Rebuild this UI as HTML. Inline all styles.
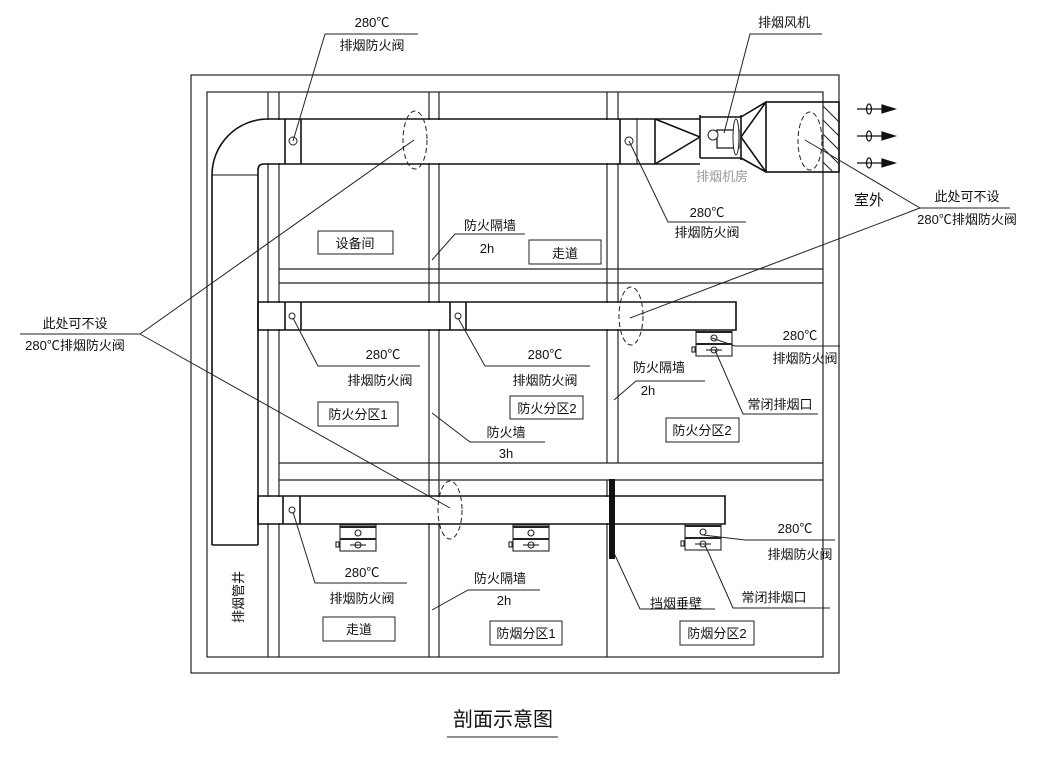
<!DOCTYPE html>
<html><head><meta charset="utf-8"><style>
html,body{margin:0;padding:0;background:#fff}
svg text{font-family:"Liberation Sans","Noto Sans CJK SC",sans-serif;fill:#111}
</style></head><body>
<svg width="1056" height="753" viewBox="0 0 1056 753" xmlns="http://www.w3.org/2000/svg">
<defs>
<g id="v" fill="none" stroke="#222" stroke-width="1.1"><rect x="0" y="0" width="36" height="26"/><line x1="0" y1="2" x2="36" y2="2" stroke-width="2"/><line x1="0" y1="14" x2="36" y2="14" stroke-width="2"/><circle cx="18" cy="8" r="3"/><circle cx="18" cy="20" r="3"/><line x1="10" y1="20" x2="26" y2="20"/><rect x="-4" y="17" width="3" height="5"/></g>
<clipPath id="hc"><rect x="823" y="102" width="16" height="70"/></clipPath>
</defs>
<g fill="none" stroke="#222" stroke-width="1.2">
<rect x="191" y="75" width="648" height="598"/>
<rect x="207" y="92" width="616" height="565"/>
<line x1="268" y1="92" x2="268" y2="657"/>
<line x1="279" y1="92" x2="279" y2="657"/>
<line x1="429" y1="92" x2="429" y2="657"/><line x1="439" y1="92" x2="439" y2="657"/>
<line x1="607" y1="92" x2="607" y2="463"/><line x1="618" y1="92" x2="618" y2="463"/>
<line x1="607" y1="480" x2="607" y2="657"/>
<line x1="279" y1="269" x2="823" y2="269"/><line x1="279" y1="283" x2="823" y2="283"/>
<line x1="279" y1="463" x2="823" y2="463"/><line x1="279" y1="480" x2="823" y2="480"/>
</g>
<g fill="#fff" stroke="none">
<rect x="259" y="120" width="396" height="43"/>
<rect x="259" y="303" width="476" height="26"/>
<rect x="259" y="497" width="465" height="26"/>
<rect x="213" y="176" width="44" height="368"/>
</g>
<g fill="none" stroke="#111" stroke-width="1.6">
<path d="M212,545 L212,175 A56,56 0 0 1 268,119 L655,119"/>
<path d="M258,545 L258,170 Q258,164 264,164 L655,164"/>
<line x1="212" y1="545" x2="258" y2="545"/>
<line x1="212" y1="175" x2="258" y2="175" stroke-width="1"/>
<line x1="285" y1="119" x2="285" y2="164"/><line x1="301" y1="119" x2="301" y2="164"/>
<line x1="620" y1="119" x2="620" y2="164"/><line x1="637" y1="119" x2="637" y2="164" stroke-width="1"/>
<line x1="655" y1="119" x2="700" y2="119"/><line x1="655" y1="164" x2="700" y2="164"/>
<line x1="655" y1="119" x2="655" y2="164"/>
<path d="M655,119 L700,137 M655,164 L700,137"/>
<line x1="700" y1="115" x2="700" y2="158"/>
<line x1="700" y1="117" x2="741" y2="117"/><line x1="700" y1="158" x2="741" y2="158"/>
<line x1="741" y1="115" x2="741" y2="160"/>
<path d="M741,117 L766,102 M741,158 L766,172 M766,102 L741,137 L766,172"/>
<rect x="766" y="102" width="73" height="70"/>
<rect x="717" y="130" width="22" height="18" stroke-width="1.2"/>
<path d="M258,302 L736,302 L736,330 L258,330 Z"/>
<line x1="285" y1="302" x2="285" y2="330"/><line x1="301" y1="302" x2="301" y2="330"/>
<line x1="450" y1="302" x2="450" y2="330"/><line x1="466" y1="302" x2="466" y2="330"/>
<path d="M258,496 L725,496 L725,524 L258,524 Z"/>
<line x1="283" y1="496" x2="283" y2="524"/><line x1="300" y1="496" x2="300" y2="524"/>
</g>
<g stroke="#222" stroke-width="1" clip-path="url(#hc)"><path d="M815,98 L845,128 M815,112 L845,142 M815,126 L845,156 M815,140 L845,170 M815,154 L845,184 M815,168 L845,198"/></g>
<rect x="609" y="479" width="6" height="80" fill="#111"/>
<g fill="#fff" stroke="#222" stroke-width="1">
<circle cx="293" cy="141" r="4"/><circle cx="629" cy="141" r="4"/><circle cx="713" cy="135" r="5"/>
<circle cx="292" cy="316" r="3"/><circle cx="458" cy="316" r="3"/><circle cx="292" cy="510" r="3"/>
<ellipse cx="736" cy="137" rx="3" ry="18"/>
</g>
<use href="#v" x="696" y="330"/><use href="#v" x="340" y="525"/><use href="#v" x="513" y="525"/><use href="#v" x="685" y="524"/>
<g fill="none" stroke="#222" stroke-width="1" stroke-dasharray="5,3">
<ellipse cx="415" cy="140" rx="12" ry="29"/><ellipse cx="810" cy="141" rx="12" ry="29"/>
<ellipse cx="631" cy="316" rx="12" ry="29"/><ellipse cx="450" cy="510" rx="12" ry="29"/>
</g>
<g stroke="#111" stroke-width="1.2" fill="#111">
<line x1="857" y1="109" x2="882" y2="109"/><path d="M882,105 L895,109 L882,113Z"/>
<line x1="857" y1="136" x2="882" y2="136"/><path d="M882,132 L895,136 L882,140Z"/>
<line x1="857" y1="163" x2="882" y2="163"/><path d="M882,159 L895,163 L882,167Z"/>
<g fill="none"><ellipse cx="869" cy="109" rx="2.5" ry="5"/><ellipse cx="869" cy="136" rx="2.5" ry="5"/><ellipse cx="869" cy="163" rx="2.5" ry="5"/></g>
</g>
<g fill="none" stroke="#222" stroke-width="1">
<path d="M293,141 L325,34 L418,34"/>
<path d="M724,133 L750,34 L822,34"/>
<path d="M629,141 L668,222 L746,222"/>
<path d="M805,140 L920,208 L1010,208 M630,318 L920,208"/>
<path d="M20,334 L140,334 L414,140 M140,334 L450,508"/>
<path d="M432,260 L455,234 L525,234"/>
<path d="M293,318 L318,366 L420,366"/>
<path d="M458,318 L485,366 L590,366"/>
<path d="M432,413 L470,442 L545,442"/>
<path d="M712,338 L735,346 L840,346"/>
<path d="M614,400 L636,381 L705,381"/>
<path d="M715,350 L743,414 L818,414"/>
<path d="M703,535 L745,540 L835,540"/>
<path d="M293,512 L315,583 L407,583"/>
<path d="M432,610 L468,590 L540,590"/>
<path d="M614,553 L640,609 L715,609"/>
<path d="M705,545 L733,608 L830,608"/>
<path d="M447,737 L558,737"/>
</g>
<g fill="#fff" stroke="#222" stroke-width="1">
<rect x="318" y="231" width="75" height="23"/><rect x="529" y="240" width="72" height="24"/>
<rect x="318" y="402" width="80" height="24"/><rect x="510" y="396" width="73" height="23"/>
<rect x="666" y="418" width="73" height="24"/>
<rect x="323" y="617" width="72" height="24"/><rect x="490" y="621" width="72" height="24"/><rect x="680" y="621" width="74" height="24"/>
</g>
<g font-size="13" text-anchor="middle">
<text x="372" y="27">280℃</text><text x="372" y="50">排烟防火阀</text>
<text x="784" y="27">排烟风机</text>
<text x="707" y="217">280℃</text><text x="707" y="237">排烟防火阀</text>
<text x="722" y="181" style="fill:#999">排烟机房</text>
<text x="869" y="205" font-size="15">室外</text>
<text x="967" y="201">此处可不设</text><text x="967" y="224">280℃排烟防火阀</text>
<text x="75" y="328">此处可不设</text><text x="75" y="350">280℃排烟防火阀</text>
<text x="355" y="248">设备间</text><text x="490" y="230">防火隔墙</text><text x="487" y="253">2h</text>
<text x="565" y="258">走道</text>
<text x="383" y="359">280℃</text><text x="380" y="385">排烟防火阀</text>
<text x="545" y="359">280℃</text><text x="545" y="385">排烟防火阀</text>
<text x="358" y="419">防火分区1</text><text x="547" y="413">防火分区2</text>
<text x="506" y="437">防火墙</text><text x="506" y="458">3h</text>
<text x="800" y="340">280℃</text><text x="805" y="363">排烟防火阀</text>
<text x="659" y="372">防火隔墙</text><text x="648" y="395">2h</text>
<text x="780" y="409">常闭排烟口</text><text x="702" y="435">防火分区2</text>
<text x="795" y="533">280℃</text><text x="800" y="559">排烟防火阀</text>
<text x="362" y="577">280℃</text><text x="362" y="603">排烟防火阀</text>
<text x="359" y="634">走道</text>
<text x="500" y="583">防火隔墙</text><text x="504" y="605">2h</text>
<text x="676" y="608">挡烟垂壁</text><text x="774" y="602">常闭排烟口</text>
<text x="526" y="638">防烟分区1</text><text x="717" y="638">防烟分区2</text>
<text x="0" y="0" transform="translate(243,597) rotate(-90)">排烟管井</text>
<text x="503" y="726" font-size="20">剖面示意图</text>
</g>
</svg>
</body></html>
